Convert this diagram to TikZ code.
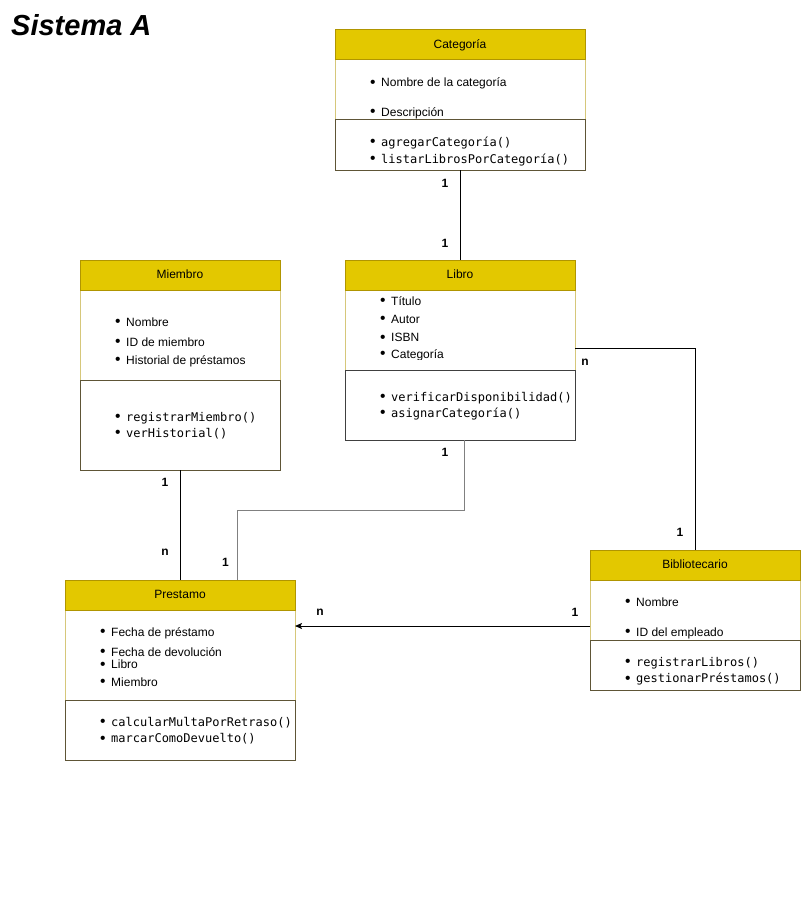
\documentclass[tikz,border=0pt]{standalone}
\usepackage{fontspec}
\setmainfont{Liberation Sans}
\setmonofont{DejaVu Sans Mono}
\usetikzlibrary{arrows.meta}
\definecolor{hdrfill}{HTML}{E3C800}
\definecolor{hdrline}{HTML}{B09500}
\definecolor{attrline}{HTML}{D6C77A}
\definecolor{methline}{HTML}{5E5536}
\definecolor{grayline}{HTML}{808080}
\newcommand\itembul{\makebox[11pt][l]{\raisebox{-0.3pt}{\scalebox{1.3}{•}}}}
\tikzset{
  box/.style={anchor=north west, inner sep=0pt, outer sep=0pt, line width=1pt},
  hdr/.style={box, draw=hdrline, fill=hdrfill, minimum height=30pt,
    font=\fontsize{12}{14}\selectfont, text height=8.6pt, text depth=2.5pt},
  attrbox/.style={box, draw=attrline, fill=white},
  methbox/.style={box, draw=methline, fill=white},
  item/.style={anchor=base west, inner sep=0pt, font=\fontsize{12}{14}\selectfont},
  mitem/.style={item},
  lab/.style={inner sep=0pt, font=\bfseries\fontsize{12}{14}\selectfont},
  conn/.style={line width=1pt, draw=black},
}
\newcommand\mt[1]{\itembul\texttt{#1}}
\begin{document}
\begin{tikzpicture}[x=1pt,y=-1pt]
\useasboundingbox (0,0) rectangle (801,915);
\fill[white] (0,0) rectangle (801,915);

% title
\node[anchor=base west, inner sep=0pt, font=\bfseries\itshape\fontsize{29}{33}\selectfont] (title) at (11,35.5) {Sistema A};

% ---- Categoria
\node[attrbox, minimum width=250pt, minimum height=60pt] (cata) at (335,60) {};
\node[methbox, minimum width=250pt, minimum height=50pt] (catm) at (335,120) {};
\node[hdr, minimum width=250pt] (cath) at (335,30) {Categoría};
\node[item] (cat1) at (370,87) {\itembul Nombre de la categoría};
\node[item] (cat2) at (370,116.5) {\itembul Descripción};
\node[mitem] (cat3) at (370,146.5) {\mt{agregarCategoría()}};
\node[mitem] (cat4) at (370,163) {\mt{listarLibrosPorCategoría()}};

% ---- Miembro
\node[attrbox, minimum width=200pt, minimum height=90pt] (miea) at (80,290) {};
\node[methbox, minimum width=200pt, minimum height=90pt] (miem) at (80,380) {};
\node[hdr, minimum width=200pt] (mieh) at (80,260) {Miembro};
\node[item] (mie1) at (115,326.5) {\itembul Nombre};
\node[item] (mie2) at (115,346.2) {\itembul ID de miembro};
\node[item] (mie3) at (115,364.5) {\itembul Historial de préstamos};
\node[mitem] (mie4) at (115,421.2) {\mt{registrarMiembro()}};
\node[mitem] (mie5) at (115,437.2) {\mt{verHistorial()}};

% ---- Libro
\node[attrbox, minimum width=230pt, minimum height=80pt] (liba) at (345,290) {};
\node[methbox, draw=black!75, minimum width=230pt, minimum height=70pt] (libm) at (345,370) {};
\node[hdr, minimum width=230pt] (libh) at (345,260) {Libro};
\node[item] (lib1) at (380,305) {\itembul Título};
\node[item] (lib2) at (380,323) {\itembul Autor};
\node[item] (lib3) at (380,341.7) {\itembul ISBN};
\begin{scope}
\clip (345,290) rectangle (575,359);
\node[item] (lib4) at (380,358.5) {\itembul Categoría};
\end{scope}
\node[mitem] (lib5) at (380,401.2) {\mt{verificarDisponibilidad()}};
\node[mitem] (lib6) at (380,417.2) {\mt{asignarCategoría()}};

% ---- Prestamo
\node[attrbox, minimum width=230pt, minimum height=90pt] (prea) at (65,610) {};
\node[methbox, minimum width=230pt, minimum height=60pt] (prem) at (65,700) {};
\node[hdr, minimum width=230pt] (preh) at (65,580) {Prestamo};
\node[item] (pre1) at (100,636.2) {\itembul Fecha de préstamo};
\node[item] (pre2) at (100,656.2) {\itembul Fecha de devolución};
\node[item] (pre3) at (100,668.8) {\itembul Libro};
\node[item] (pre4) at (100,686.2) {\itembul Miembro};
\node[mitem] (pre5) at (100,726.2) {\mt{calcularMultaPorRetraso()}};
\node[mitem] (pre6) at (100,742.8) {\mt{marcarComoDevuelto()}};

% ---- Bibliotecario
\node[attrbox, minimum width=210pt, minimum height=60pt] (biba) at (590,580) {};
\node[methbox, minimum width=210pt, minimum height=50pt] (bibm) at (590,640) {};
\node[hdr, minimum width=210pt] (bibh) at (590,550) {Bibliotecario};
\node[item] (bib1) at (625,606.2) {\itembul Nombre};
\node[item] (bib2) at (625,636.2) {\itembul ID del empleado};
\node[mitem] (bib3) at (625,666.2) {\mt{registrarLibros()}};
\node[mitem] (bib4) at (625,682.8) {\mt{gestionarPréstamos()}};

% ---- connectors
\draw[conn] (catm.south) -- (libh.north);
\node[lab] (l1) at (445,183.5) {1};
\node[lab] (l2) at (445,243) {1};

\draw[conn] (miem.south) -- (preh.north);
\node[lab] (l3) at (165,482) {1};
\node[lab] (l4) at (165,552) {n};

\coordinate (j1) at (464,510);
\draw[conn, draw=grayline] ([xshift=4pt]libm.south) -- (j1) -| ([xshift=57pt]preh.north);
\node[lab] (l5) at (445,452) {1};
\node[lab] (l6) at (225.5,562) {1};

\coordinate (s2) at (575,348);
\draw[conn] (s2) -| (bibh.north);
\node[lab] (l7) at (585,362) {n};
\node[lab] (l8) at (680,532) {1};

\coordinate (s3) at (590,626);
\draw[conn, -{Stealth[length=7pt,width=6pt,inset=1.5pt]}] (s3) -- (s3 -| prea.east);
\node[lab] (l9) at (320,612) {n};
\node[lab] (l10) at (575,612) {1};
\end{tikzpicture}
\end{document}
